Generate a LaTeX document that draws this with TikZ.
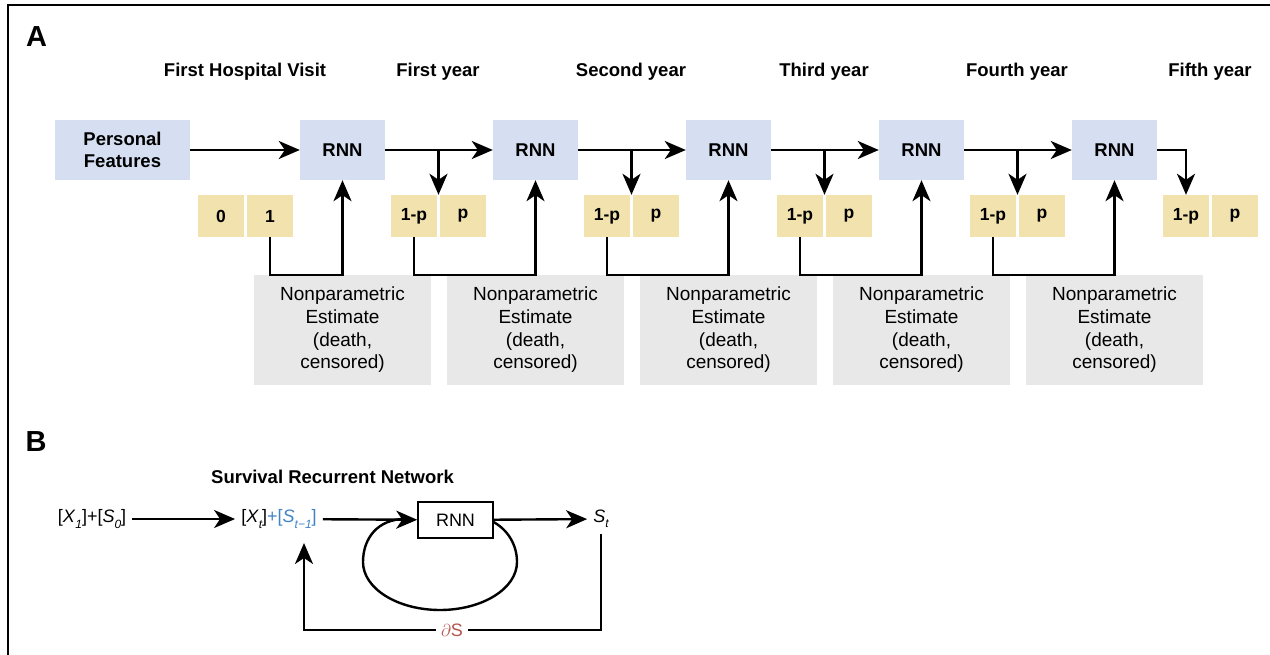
\documentclass[tikz,border=0pt]{standalone}
\usepackage{fontspec}
\setmainfont{Liberation Sans}
\usetikzlibrary{positioning, calc, arrows.meta}

\definecolor{cellblue}{HTML}{D6DEF1}
\definecolor{probyellow}{HTML}{F2E3AE}
\definecolor{estgray}{HTML}{E8E8E8}
\definecolor{prevblue}{HTML}{3F83C7}
\definecolor{diffred}{HTML}{B5554E}

\newcommand{\lowidx}[1]{\raisebox{-0.3em}{\fontsize{12}{12}\selectfont\itshape #1}}

\tikzset{
  frame/.style={line width=2pt},
  panel/.style={font=\fontsize{29}{29}\selectfont\bfseries},
  year/.style={font=\fontsize{18.5}{22}\selectfont\bfseries},
  cell/.style={fill=cellblue, minimum width=85pt, minimum height=60pt, inner sep=0pt,
    align=center, font=\fontsize{18.5}{22}\selectfont\bfseries},
  prob/.style={fill=probyellow, minimum width=46pt, minimum height=42pt, inner sep=0pt,
    font=\fontsize{17.5}{20}\selectfont\bfseries},
  estim/.style={fill=estgray, minimum width=177pt, minimum height=110pt, inner sep=0pt,
    align=center, font=\fontsize{19}{22.7}\selectfont},
  flow/.style={-{Stealth[length=21pt, width=18pt, inset=6pt]}, line width=2.4pt},
  term/.style={inner sep=6pt, font=\fontsize{18}{21}\selectfont},
  loopbox/.style={draw, fill=white, line width=1.5pt, minimum width=75pt, minimum height=36pt,
    inner sep=0pt, font=\fontsize{18}{21}\selectfont},
}

\begin{document}
\begin{tikzpicture}[x=1pt, y=-1pt]
\useasboundingbox (0,0) rectangle (1270,655);
\draw[frame] (8,655) -- (8,5) -- (1270,5);

% panel A
\node[panel] (labA) at (36.5,37) {A};
\node[year] (hdr0) at (245,72) {First Hospital Visit};
\foreach \i/\yr in {1/First,2/Second,3/Third,4/Fourth,5/Fifth}
  \node[year] (hdr\i) at (245+193*\i,72) {\yr\ year};

\node[cell, minimum width=135pt] (feat) at (122.5,150) {Personal\\Features};
\foreach \i in {1,...,5} {
  \node[cell] (rnn\i) at (149.5+193*\i,150) {RNN};
  \node[estim] (est\i) at (149.5+193*\i,330) {Nonparametric\\Estimate\\(death,\\censored)};
  \node[prob] (om\i) at (221+193*\i,216) {1-p};
  \node[prob] (pp\i) at (270+193*\i,216) {p};
}
\node[prob] (zero) at (221,216) {0};
\node[prob] (one) at (270,216) {1};

\draw[flow] (feat) -- (rnn1);
\draw[flow] (one.south) -- (one.south |- est1.north) -| (rnn1.south);
\foreach \i/\j in {1/2,2/3,3/4,4/5} {
  \coordinate (split\i) at ($(om\i.north east)!0.5!(pp\i.north west)$);
  \draw[flow] (rnn\i) -- (rnn\j);
  \draw[flow] (rnn\i.east -| split\i) -- (split\i);
  \draw[flow] (om\i.south) -- (om\i.south |- est\j.north) -| (rnn\j.south);
}
\draw[flow] (rnn5.east) -| (om5.north);

% panel B
\node[panel] (labB) at (36,442) {B};
\node[year] (srnTitle) at (332.5,477) {Survival Recurrent Network};
\node[term] (xfirst) at (92,519) {[\textit{X}\lowidx{1}]+[\textit{S}\lowidx{0}]};
\node[term] (xt) at (279,519) {[\textit{X}\lowidx{t}]\textcolor{prevblue}{+[\textit{S}\lowidx{t−1}]}};
\node[term] (st) at (601,519) {\textit{S}\lowidx{t}};
\coordinate (fbin) at (304,543);
\coordinate (fbfloor) at (452,630);

\draw[line width=2.4pt] (493.5,522) .. controls (508,530) and (517,545) .. (517,562)
  .. controls (517,588.5) and (482.5,610) .. (440,610)
  .. controls (397.5,610) and (363,588.5) .. (363,562)
  .. controls (363,538) and (378,519) .. (405,519);
\node[loopbox] (cellB) at (455.5,520) {RNN};

\draw[flow] (xfirst) -- (xt);
\draw[flow] (xt) -- (cellB);
\draw[flow] (cellB) -- (st);
\draw[flow] (st.south) |- (fbfloor) -| (fbin);
\node[fill=white, inner sep=5pt, text=diffred, font=\fontsize{18}{21}\selectfont] (dS) at (fbfloor) {$\partial$S};
\end{tikzpicture}
\end{document}
